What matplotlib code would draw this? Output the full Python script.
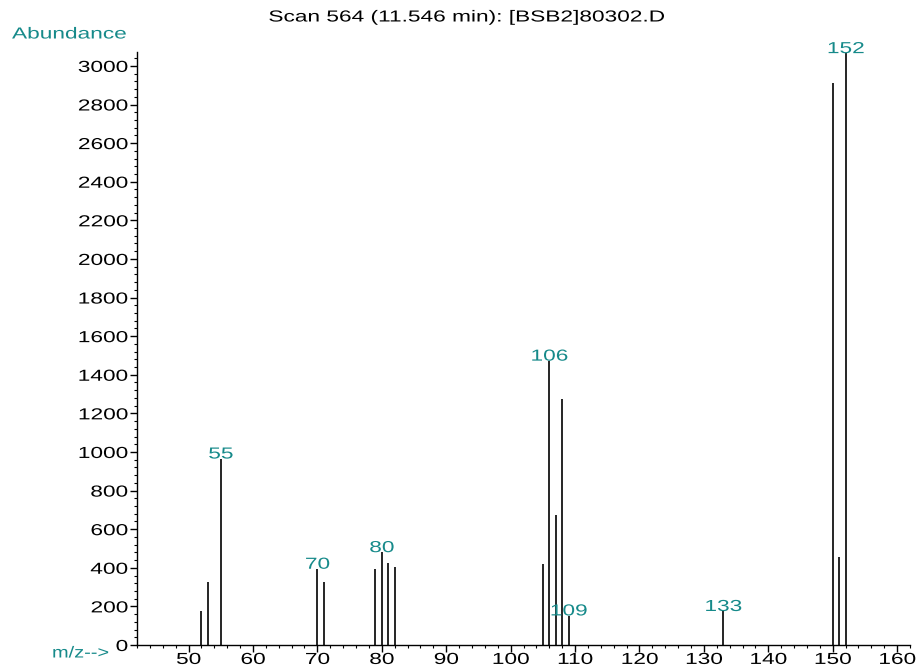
import matplotlib.pyplot as plt
from matplotlib.ticker import MultipleLocator
from matplotlib.patheffects import AbstractPathEffect
from matplotlib.transforms import Affine2D

plt.rcParams['font.family'] = ['Liberation Sans', 'DejaVu Sans']

# spectrum data
mz = [52, 53, 55, 70, 71, 79, 80, 81, 82, 105, 106, 107, 108, 109, 133, 150, 151, 152]
abundance = [178, 328, 965, 394, 324, 394, 480, 424, 405, 420, 1472, 672, 1275, 152, 175, 2910, 458, 3065]
labelled = [55, 70, 80, 106, 109, 133, 152]

title = "Scan 564 (11.546 min): [BSB2]80302.D"
teal = '#168a8a'
SX = 1.42  # the instrument font is wide, stretch glyphs horizontally


class Stretch(AbstractPathEffect):
    # widen the text path around its left / center / right edge
    def __init__(self, anchor='left', sx=SX):
        super().__init__()
        self.anchor = anchor
        self.sx = sx

    def draw_path(self, renderer, gc, tpath, affine, rgbFace=None):
        v = tpath.vertices
        x1 = v[:, 0].max() if len(v) else 0
        cx = {'left': 0, 'center': x1 / 2, 'right': x1}[self.anchor]
        t = Affine2D().translate(-cx, 0).scale(self.sx, 1).translate(cx, 0)
        renderer.draw_path(gc, tpath, t + affine, rgbFace)


fig = plt.figure(figsize=(9.17, 6.65), dpi=100)
ax = fig.add_axes([137/917, 20/665, (910-137)/917, (645-52)/665])

ax.vlines(mz, 0, abundance, color='black', linewidth=1.2)
for m, a in zip(mz, abundance):
    if m in labelled:
        ax.annotate(str(m), (m, a), xytext=(0, -2), textcoords='offset points',
                    ha='center', va='bottom', color=teal, fontsize=11.5,
                    path_effects=[Stretch('center')])

ax.set_xlim(42, 162)
ax.set_ylim(0, 3072)
ax.xaxis.set_major_locator(MultipleLocator(10))
ax.xaxis.set_minor_locator(MultipleLocator(2))
ax.yaxis.set_major_locator(MultipleLocator(200))
ax.yaxis.set_minor_locator(MultipleLocator(40))
ax.set_xticks(range(50, 161, 10))
ax.tick_params(which='major', length=5, width=1, labelsize=11.5, pad=1.5)
ax.tick_params(axis='x', which='major', pad=0)
ax.tick_params(which='minor', length=2.5, width=0.8)
for lbl in ax.get_xticklabels():
    lbl.set_path_effects([Stretch('center')])
for lbl in ax.get_yticklabels():
    lbl.set_path_effects([Stretch('right')])

for s in ['top', 'right']:
    ax.spines[s].set_visible(False)
for s in ['left', 'bottom']:
    ax.spines[s].set_linewidth(1)

fig.text(467/917, 1 - 17/665, title, ha='center', va='center', fontsize=11.5,
         path_effects=[Stretch('center')])
fig.text(12/917, 1 - 34/665, "Abundance", ha='left', va='center', color=teal,
         fontsize=11.5, path_effects=[Stretch('left')])
fig.text(52/917, 1 - 653/665, "m/z-->", ha='left', va='center', color=teal,
         fontsize=11.5, path_effects=[Stretch('left', 1.25)])

fig.savefig('out.png', dpi=100)
